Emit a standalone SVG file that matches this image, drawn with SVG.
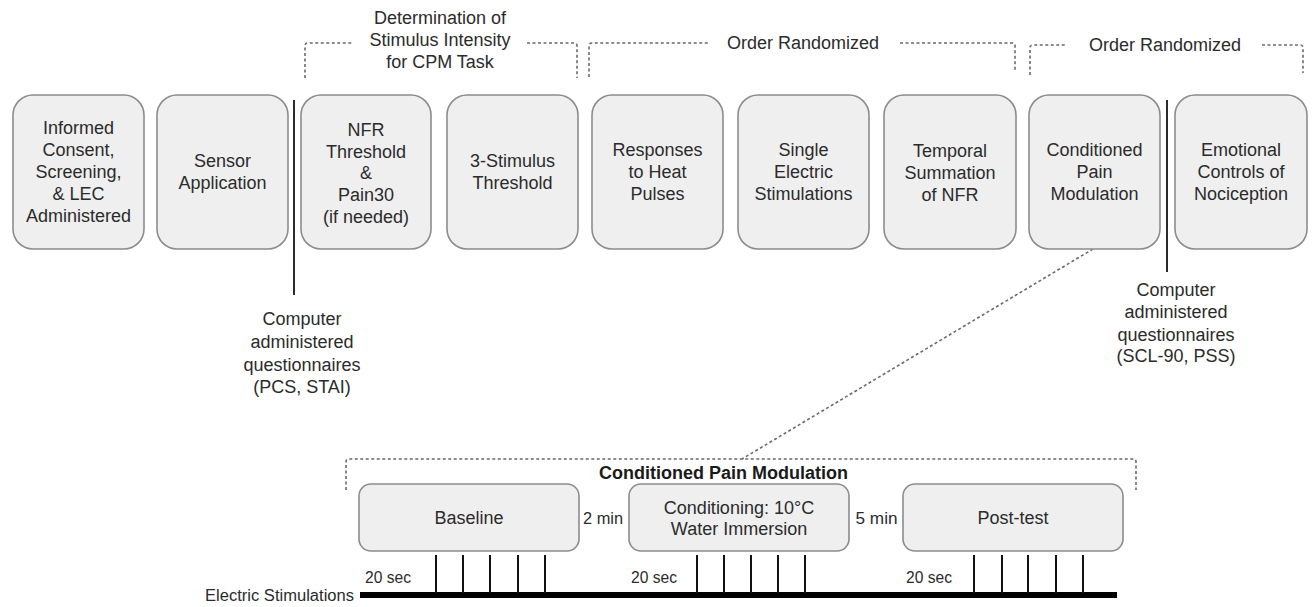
<svg xmlns="http://www.w3.org/2000/svg" width="1314" height="607" viewBox="0 0 1314 607">
<style>
text{font-family:"Liberation Sans",Arial,sans-serif;fill:#2b2b2b;font-size:18px;text-anchor:middle}
.box{fill:#efefef;stroke:#8c8c8c;stroke-width:1.6}
.br{fill:none;stroke:#6a6a6a;stroke-width:1.6;stroke-dasharray:3 2.5}
.sep{stroke:#2b2b2b;stroke-width:2}
.tick{stroke:#111;stroke-width:2}
.cal{font-size:16px}
.b{font-weight:bold;fill:#1a1a1a}
</style>
<rect width="1314" height="607" fill="#fff"/>
<g id="connectors">
<path class="br" d="M305,78 V46 Q305,43 308,43 H352"/>
<path class="br" d="M527,43 H574 Q577,43 577,46 V78"/>
<path class="br" d="M589,77 V46 Q589,43 592,43 H708"/>
<path class="br" d="M900,43 H1012 Q1015,43 1015,46 V72"/>
<path class="br" d="M1030,75 V48 Q1030,45 1033,45 H1067"/>
<path class="br" d="M1262,45 H1300 Q1303,45 1303,48 V73"/>
<path class="br" d="M346,490 V462 Q346,459 349,459 H1133 Q1136,459 1136,462 V490"/>
<path class="br" d="M1093,249 L742,459" stroke-dasharray="3 3"/>
<line class="sep" x1="294" y1="100" x2="294" y2="295"/>
<line class="sep" x1="1167" y1="100" x2="1167" y2="272"/>
</g>
<g id="labels-top">
<text x="440" y="24">Determination of</text>
<text x="440" y="46">Stimulus Intensity</text>
<text x="440" y="68">for CPM Task</text>
<text x="803" y="49">Order Randomized</text>
<text x="1165" y="51">Order Randomized</text>
</g>
<g id="n1"><rect class="box" x="13" y="95" width="131" height="154" rx="20"/>
<text x="78.5" y="134">Informed</text><text x="78.5" y="156">Consent,</text><text x="78.5" y="178">Screening,</text><text x="78.5" y="200">&amp; LEC</text><text x="78.5" y="222">Administered</text></g>
<g id="n2"><rect class="box" x="157" y="95" width="131" height="154" rx="20"/>
<text x="222.5" y="167">Sensor</text><text x="222.5" y="189">Application</text></g>
<g id="n3"><rect class="box" x="301" y="95" width="130" height="154" rx="20"/>
<text x="366" y="136">NFR</text><text x="366" y="158">Threshold</text><text x="366" y="179">&amp;</text><text x="366" y="201">Pain30</text><text x="366" y="223">(if needed)</text></g>
<g id="n4"><rect class="box" x="447" y="95" width="131" height="154" rx="20"/>
<text x="512.5" y="167">3-Stimulus</text><text x="512.5" y="189">Threshold</text></g>
<g id="n5"><rect class="box" x="592" y="95" width="131" height="154" rx="20"/>
<text x="657.5" y="156">Responses</text><text x="657.5" y="178">to Heat</text><text x="657.5" y="200">Pulses</text></g>
<g id="n6"><rect class="box" x="738" y="95" width="131" height="154" rx="20"/>
<text x="803.5" y="156">Single</text><text x="803.5" y="178">Electric</text><text x="803.5" y="200">Stimulations</text></g>
<g id="n7"><rect class="box" x="884" y="95" width="132" height="154" rx="20"/>
<text x="950" y="157">Temporal</text><text x="950" y="179">Summation</text><text x="950" y="201">of NFR</text></g>
<g id="n8"><rect class="box" x="1029" y="95" width="131" height="154" rx="20"/>
<text x="1094.5" y="156">Conditioned</text><text x="1094.5" y="178">Pain</text><text x="1094.5" y="200">Modulation</text></g>
<g id="n9"><rect class="box" x="1175" y="95" width="132" height="154" rx="20"/>
<text x="1241" y="156">Emotional</text><text x="1241" y="178">Controls of</text><text x="1241" y="200">Nociception</text></g>
<g id="q1">
<text x="302" y="325">Computer</text><text x="302" y="348">administered</text><text x="302" y="371">questionnaires</text><text x="302" y="393">(PCS, STAI)</text></g>
<g id="q2">
<text x="1176" y="296">Computer</text><text x="1176" y="318">administered</text><text x="1176" y="341">questionnaires</text><text x="1176" y="362">(SCL-90, PSS)</text></g>
<text class="b" x="723.5" y="479">Conditioned Pain Modulation</text>
<g id="baseline"><rect class="box" x="359" y="484" width="220" height="67" rx="12"/>
<text x="469" y="524">Baseline</text></g>
<g id="conditioning"><rect class="box" x="629" y="484" width="220" height="67" rx="12"/>
<text x="739" y="514">Conditioning: 10°C</text><text x="739" y="535">Water Immersion</text></g>
<g id="posttest"><rect class="box" x="903" y="484" width="220" height="67" rx="12"/>
<text x="1013" y="524">Post-test</text></g>
<g id="timeline">
<rect x="360" y="592" width="757" height="6" fill="#000"/>
<g class="tick">
<line x1="436" y1="555" x2="436" y2="593"/><line x1="463" y1="555" x2="463" y2="593"/><line x1="490" y1="555" x2="490" y2="593"/><line x1="518" y1="555" x2="518" y2="593"/><line x1="545" y1="555" x2="545" y2="593"/>
<line x1="697" y1="555" x2="697" y2="593"/><line x1="724" y1="555" x2="724" y2="593"/><line x1="751" y1="555" x2="751" y2="593"/><line x1="778" y1="555" x2="778" y2="593"/><line x1="805" y1="555" x2="805" y2="593"/>
<line x1="974" y1="555" x2="974" y2="593"/><line x1="1002" y1="555" x2="1002" y2="593"/><line x1="1028" y1="555" x2="1028" y2="593"/><line x1="1056" y1="555" x2="1056" y2="593"/><line x1="1083" y1="555" x2="1083" y2="593"/>
</g>
<text class="cal" x="388" y="583" textLength="46" lengthAdjust="spacingAndGlyphs">20 sec</text>
<text class="cal" x="654" y="583" textLength="46" lengthAdjust="spacingAndGlyphs">20 sec</text>
<text class="cal" x="929" y="583" textLength="46" lengthAdjust="spacingAndGlyphs">20 sec</text>
<text class="cal" x="603" y="524" textLength="40" lengthAdjust="spacingAndGlyphs">2 min</text>
<text class="cal" x="876.5" y="524" textLength="42" lengthAdjust="spacingAndGlyphs">5 min</text>
<text class="cal" x="354" y="601" style="text-anchor:end" textLength="149" lengthAdjust="spacingAndGlyphs">Electric Stimulations</text>
</g>
</svg>
